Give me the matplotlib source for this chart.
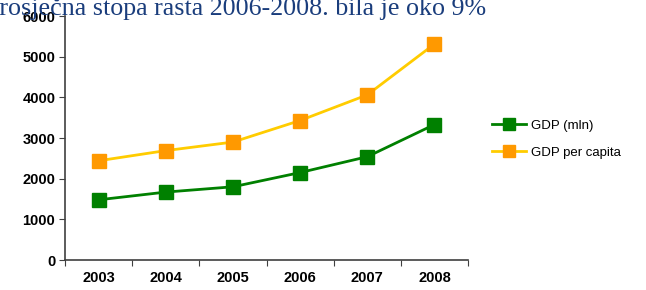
import matplotlib
matplotlib.use('Agg')
import matplotlib.pyplot as plt

# data
years = ['2003', '2004', '2005', '2006', '2007', '2008']
gdp_mln = [1480, 1670, 1800, 2150, 2540, 3330]
gdp_per_capita = [2440, 2690, 2900, 3430, 4060, 5310]
yticks = [0, 1000, 2000, 3000, 4000, 5000, 6000]
title = 'Prosječna stopa rasta 2006-2008. bila je oko 9%'

plt.rcParams['font.family'] = ['Liberation Sans', 'DejaVu Sans']

fig = plt.figure(figsize=(6.46, 2.9), dpi=100)
ax = fig.add_axes([65/646, 1 - 260/290, (468 - 65)/646, (260 - 16)/290])

x = [i + 0.5 for i in range(len(years))]
ax.plot(x, gdp_mln, color='#008000', lw=2, marker='s', ms=10,
        mfc='#008000', mec='#008000', label='GDP (mln)')
ax.plot(x, gdp_per_capita, color='#FFCC00', lw=2, marker='s', ms=10,
        mfc='#FF9900', mec='#FF9900', label='GDP per capita')

ax.set_xlim(0, len(years))
ax.set_ylim(0, 6000)
ax.set_yticks(yticks)
ax.set_yticklabels([str(t) for t in yticks], fontweight='bold', fontsize=10.5)
ax.set_xticks(range(len(years) + 1))
ax.set_xticklabels([])
ax.set_xticks(x, minor=True)
ax.set_xticklabels(years, minor=True, fontweight='bold', fontsize=10.5)
ax.tick_params(axis='x', which='minor', length=0, pad=8)
ax.tick_params(axis='x', which='major', length=4, color='#404040')
ax.tick_params(axis='y', length=4, color='#404040', pad=3)

for s in ['top', 'right']:
    ax.spines[s].set_visible(False)
for s in ['left', 'bottom']:
    ax.spines[s].set_color('#404040')
    ax.spines[s].set_linewidth(1.2)

leg = fig.legend(loc='upper left', bbox_to_anchor=(480/646, 1 - 108/290),
                 frameon=False, fontsize=9.5, markerscale=0.8,
                 handlelength=2.6, handletextpad=0.4, labelspacing=1.1)

# title is cut off at the top of the slide
fig.text(-15/646, 1 - 15/290, title, family='Liberation Serif', fontsize=18.7,
         color='#1A3D7C', va='baseline', ha='left')

fig.savefig('out.png', dpi=100)
